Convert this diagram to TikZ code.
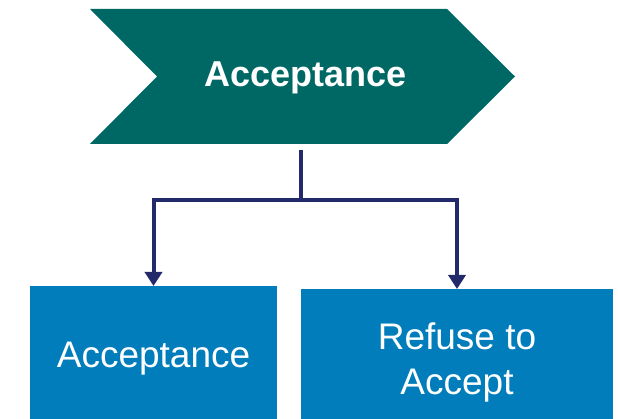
\documentclass[tikz,border=0pt]{standalone}
\usepackage{fontspec}
\setmainfont{Liberation Sans}
\usetikzlibrary{arrows.meta}
\definecolor{chevteal}{HTML}{006864}
\definecolor{boxblue}{HTML}{007DBA}
\definecolor{linknavy}{HTML}{222A6A}
\begin{document}
\begin{tikzpicture}[x=1pt, y=-1pt, >={Triangle[width=17pt, length=14pt]},
  box/.style={fill=boxblue, text=white, align=center, font=\fontsize{37}{45}\selectfont, anchor=north},
  link/.style={draw=linknavy, line width=4pt}]

    % Fix page size
    \useasboundingbox (0,0) rectangle (618,419);
    \clip (0,0) rectangle (618,419);

    % Draw chevron
    \fill[chevteal] (90,9) -- (447,9) -- (515,76.5) -- (447,144) -- (90,144) -- (157,76.5) -- cycle;
    \node (title) [anchor=base, text=white, font=\fontsize{36}{43}\selectfont\bfseries] at (305.5,87) {Acceptance};
    \coordinate (stem) at (301,150);
    \coordinate (split) at (301,200);

    % Draw boxes
    \node (accept) [box, minimum width=247pt, minimum height=145pt] at (153.5,286) {Acceptance};
    \node (refuse) [box, minimum width=312pt, minimum height=147pt] at (457,289) {Refuse to\\Accept};

    % Draw arrows
    \draw[link] (stem) -- (split);
    \draw[link, ->] (split) -| (accept.north);
    \draw[link, ->] (split) -| (refuse.north);
\end{tikzpicture}
\end{document}
